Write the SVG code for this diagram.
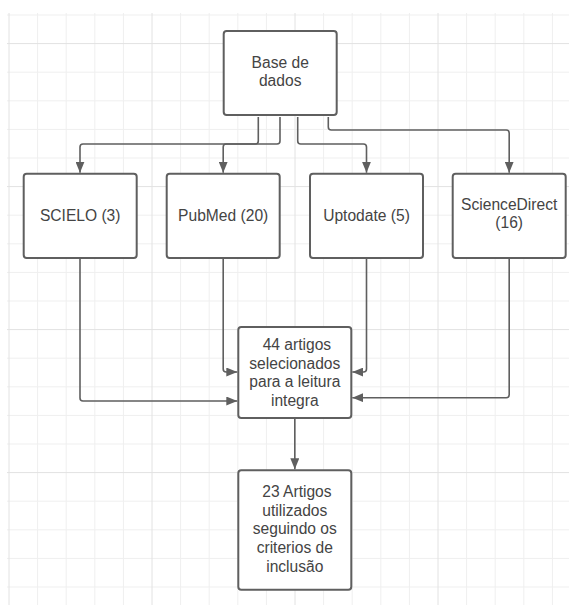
<svg xmlns="http://www.w3.org/2000/svg" width="569" height="605" viewBox="0 0 569 605">
<style>
.minor{stroke:#efefef;stroke-width:1;fill:none}
.major{stroke:#e2e2e2;stroke-width:1;fill:none}
.box{fill:#ffffff;stroke:#5f5f5f;stroke-width:2}
.lbl{font-family:"Liberation Sans",Arial,sans-serif;font-size:15.6px;fill:#444444;text-anchor:middle}
.conn{fill:none;stroke:#5f5f5f;stroke-width:1.6}
</style>
<defs>
<marker id="arr" markerUnits="userSpaceOnUse" markerWidth="12" markerHeight="9" refX="11" refY="4.5" orient="auto">
<path d="M0,0 L11,4.5 L0,9 z" fill="#5f5f5f"/>
</marker>
</defs>
<rect width="569" height="605" fill="#ffffff"/>
<g id="grid">
<path class="minor" d="M37.6,13V605M66.2,13V605M94.8,13V605M123.4,13V605M180.6,13V605M209.2,13V605M237.8,13V605M266.4,13V605M323.6,13V605M352.2,13V605M380.8,13V605M409.4,13V605M466.6,13V605M495.2,13V605M523.8,13V605M552.4,13V605"/>
<path class="minor" d="M7,15H569M7,72.2H569M7,100.8H569M7,129.4H569M7,158H569M7,215.2H569M7,243.8H569M7,272.4H569M7,301H569M7,358.2H569M7,386.8H569M7,415.4H569M7,444H569M7,501.2H569M7,529.8H569M7,558.4H569M7,587H569"/>
<path class="major" d="M9,13V605M152,13V605M295,13V605M438,13V605M7,43.6H569M7,186.6H569M7,329.6H569M7,472.6H569"/>
</g>
<g id="connectors">
<path class="conn" marker-end="url(#arr)" d="M258.3,117 V141 Q258.3,144 255.3,144 H83 Q80,144 80,147 V172.7"/>
<path class="conn" marker-end="url(#arr)" d="M280,117 V141 Q280,144 277,144 H226.2 Q223.2,144 223.2,147 V172.7"/>
<path class="conn" marker-end="url(#arr)" d="M297.7,117 V141 Q297.7,144 300.7,144 H363.5 Q366.5,144 366.5,147 V172.7"/>
<path class="conn" marker-end="url(#arr)" d="M328.3,117 V127 Q328.3,130 331.3,130 H506.2 Q509.2,130 509.2,133 V172.7"/>
<path class="conn" marker-end="url(#arr)" d="M80,259 V398 Q80,401 83,401 H237.3"/>
<path class="conn" marker-end="url(#arr)" d="M223.2,259 V369 Q223.2,372 226.2,372 H237.3"/>
<path class="conn" marker-end="url(#arr)" d="M366.5,259 V369 Q366.5,372 363.5,372 H352.3"/>
<path class="conn" marker-end="url(#arr)" d="M509.2,259 V394.7 Q509.2,397.7 506.2,397.7 H352.3"/>
<path class="conn" marker-end="url(#arr)" d="M294.8,419 V469.3"/>
</g>
<g id="base">
<rect class="box" x="223.7" y="31" width="113" height="84" rx="3"/>
<text class="lbl" x="280.2" y="67.5">Base de</text>
<text class="lbl" x="280.2" y="86">dados</text>
</g>
<g id="scielo">
<rect class="box" x="23.7" y="173.7" width="113" height="84.3" rx="3"/>
<text class="lbl" x="80.2" y="221">SCIELO (3)</text>
</g>
<g id="pubmed">
<rect class="box" x="166.7" y="173.7" width="113" height="84.3" rx="3"/>
<text class="lbl" x="223.2" y="221">PubMed (20)</text>
</g>
<g id="uptodate">
<rect class="box" x="310" y="173.7" width="113" height="84.3" rx="3"/>
<text class="lbl" x="366.5" y="221">Uptodate (5)</text>
</g>
<g id="sciencedirect">
<rect class="box" x="452.7" y="173.7" width="113" height="84.3" rx="3"/>
<text class="lbl" x="509.2" y="209.5">ScienceDirect</text>
<text class="lbl" x="509.2" y="228">(16)</text>
</g>
<g id="selecionados">
<rect class="box" x="238.3" y="327" width="113" height="91" rx="3"/>
<text class="lbl" x="296.9" y="350">44 artigos</text>
<text class="lbl" x="294.8" y="368.7">selecionados</text>
<text class="lbl" x="294.8" y="387.3">para a leitura</text>
<text class="lbl" x="294.8" y="406">integra</text>
</g>
<g id="utilizados">
<rect class="box" x="238.3" y="470.3" width="113" height="119.4" rx="3"/>
<text class="lbl" x="296.9" y="497">23 Artigos</text>
<text class="lbl" x="294.8" y="515.7">utilizados</text>
<text class="lbl" x="294.8" y="534.4">seguindo os</text>
<text class="lbl" x="294.8" y="553.1">criterios de</text>
<text class="lbl" x="294.8" y="571.8">inclusão</text>
</g>
</svg>
